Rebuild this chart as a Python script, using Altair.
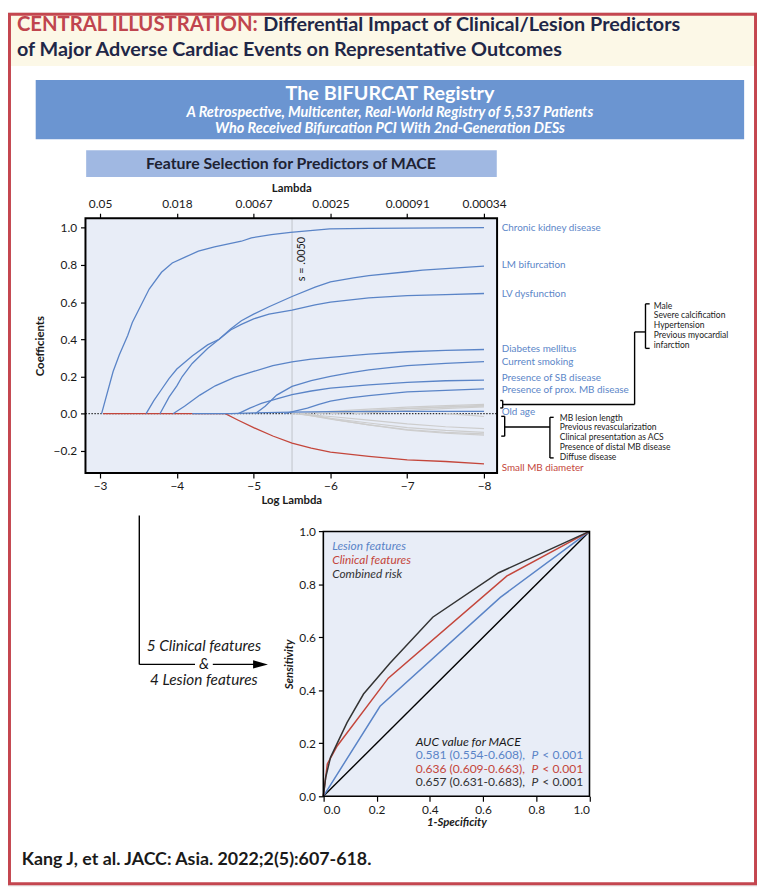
import altair as alt
import pandas as pd

W, H = 757, 882
OFF = 4


def px(v):
    return round(v - OFF, 1)


# ---------------- text content ----------------
title_red = "CENTRAL ILLUSTRATION:"
title_line1 = "Differential Impact of Clinical/Lesion Predictors"
title_line2 = "of Major Adverse Cardiac Events on Representative Outcomes"
banner_title = "The BIFURCAT Registry"
banner_sub = ["A Retrospective, Multicenter, Real-World Registry of 5,537 Patients",
              "Who Received Bifurcation PCI With 2nd-Generation DESs"]
panel_title = "Feature Selection for Predictors of MACE"
citation = "Kang J, et al. JACC: Asia. 2022;2(5):607-618."

# ---------------- lasso path data ----------------
loglam_ticks = [-3, -4, -5, -6, -7, -8]
lambda_tick_labels = ["0.05", "0.018", "0.0067", "0.0025", "0.00091", "0.00034"]
coef_ticks = [-0.2, 0.0, 0.2, 0.4, 0.6, 0.8, 1.0]
loglam_domain = [-8.17, -2.81]
coef_domain = [-0.319, 1.051]
s_loglam = -5.5
s_label = "s = .0050"

ckd_x = [-3.02, -3.17, -3.25, -3.36, -3.42, -3.64, -3.8, -3.94, -4.1, -4.28, -4.49, -4.84, -4.97, -5.23, -5.48, -5.99, -6.5, -7.0, -7.5, -8.0]
ckd_y = [0.0, 0.227, 0.315, 0.42, 0.49, 0.67, 0.76, 0.81, 0.84, 0.874, 0.897, 0.927, 0.945, 0.963, 0.975, 0.993, 0.996, 0.998, 0.999, 1.0]
lm_x = [-3.78, -3.9, -4.0, -4.07, -4.2, -4.4, -4.55, -4.7, -4.84, -5.0, -5.2, -5.5, -5.8, -6.0, -6.3, -6.5, -7.0, -7.2, -7.5, -8.0]
lm_y = [0.0, 0.09, 0.15, 0.2, 0.27, 0.35, 0.4, 0.455, 0.5, 0.535, 0.575, 0.63, 0.68, 0.708, 0.73, 0.742, 0.763, 0.772, 0.78, 0.793]
lv_x = [-3.6, -3.7, -3.8, -3.9, -4.0, -4.2, -4.4, -4.55, -4.7, -4.84, -5.0, -5.2, -5.5, -5.8, -6.0, -6.5, -7.0, -7.5, -8.0]
lv_y = [0.0, 0.07, 0.13, 0.19, 0.24, 0.31, 0.37, 0.4, 0.45, 0.48, 0.51, 0.535, 0.557, 0.585, 0.6, 0.622, 0.635, 0.64, 0.646]
dm_x = [-3.95, -4.1, -4.3, -4.5, -4.75, -5.0, -5.25, -5.5, -5.75, -6.0, -6.5, -7.0, -7.5, -8.0]
dm_y = [0.0, 0.04, 0.1, 0.15, 0.195, 0.227, 0.258, 0.278, 0.293, 0.303, 0.32, 0.333, 0.34, 0.345]
smk_x = [-5.02, -5.15, -5.3, -5.5, -5.75, -6.0, -6.25, -6.5, -7.0, -7.5, -8.0]
smk_y = [0.0, 0.04, 0.1, 0.147, 0.178, 0.2, 0.22, 0.235, 0.258, 0.27, 0.28]
sb_x = [-4.8, -4.95, -5.1, -5.3, -5.5, -5.75, -6.0, -6.5, -7.0, -7.5, -8.0]
sb_y = [0.0, 0.03, 0.055, 0.08, 0.103, 0.122, 0.138, 0.155, 0.168, 0.177, 0.18]
pmb_x = [-5.4, -5.55, -5.7, -5.85, -6.0, -6.25, -6.5, -7.0, -7.5, -8.0]
pmb_y = [0.0, 0.015, 0.03, 0.05, 0.067, 0.085, 0.097, 0.117, 0.125, 0.133]
age_x = [-4.2, -4.7, -5.0, -5.5, -6.0, -7.0, -8.0]
age_y = [0.0, 0.0, 0.004, 0.008, 0.011, 0.013, 0.013]
smb_x = [-3.04, -4.63, -4.8, -5.0, -5.25, -5.5, -5.75, -6.0, -6.5, -7.0, -7.5, -8.0]
smb_y = [0.0, 0.0, -0.035, -0.075, -0.12, -0.158, -0.185, -0.207, -0.229, -0.248, -0.257, -0.27]

male_x = [-5.6, -6.0, -6.5, -7.0, -7.5, -8.0]
male_y = [0.0, 0.012, 0.025, 0.035, 0.043, 0.05]
calc_x = [-5.8, -6.2, -6.6, -7.0, -7.5, -8.0]
calc_y = [0.0, 0.01, 0.02, 0.028, 0.037, 0.045]
htn_x = [-6.0, -6.5, -7.0, -7.5, -8.0]
htn_y = [0.0, 0.015, 0.027, 0.035, 0.04]
pmi_x = [-6.3, -6.8, -7.2, -7.6, -8.0]
pmi_y = [0.0, 0.012, 0.022, 0.03, 0.036]
len_x = [-5.5, -6.0, -6.5, -7.0, -7.5, -8.0]
len_y = [0.0, -0.015, -0.035, -0.055, -0.07, -0.08]
rev_x = [-5.55, -6.0, -6.5, -7.0, -7.5, -8.0]
rev_y = [0.0, -0.025, -0.05, -0.075, -0.09, -0.1]
acs_x = [-5.6, -6.0, -6.5, -7.0, -7.5, -8.0]
acs_y = [0.0, -0.03, -0.06, -0.085, -0.1, -0.108]
dmb_x = [-5.7, -6.1, -6.5, -7.0, -7.5, -8.0]
dmb_y = [0.0, -0.035, -0.06, -0.088, -0.105, -0.115]
dif_x = [-7.5, -7.8, -8.0]
dif_y = [0.0, -0.008, -0.015]

label_names = ["Chronic kidney disease", "LM bifurcation", "LV dysfunction", "Diabetes mellitus",
               "Current smoking", "Presence of SB disease", "Presence of prox. MB disease",
               "Old age", "Small MB diameter"]
label_y = [0.998, 0.798, 0.644, 0.347, 0.28, 0.191, 0.129, 0.011, -0.292]
upper_list = ["Male", "Severe calcification", "Hypertension", "Previous myocardial", "infarction"]
lower_list = ["MB lesion length", "Previous revascularization", "Clinical presentation as ACS",
              "Presence of distal MB disease", "Diffuse disease"]
arrow_text = ["5 Clinical features", "&", "4 Lesion features"]

# ---------------- ROC data ----------------
roc_ticks = [0.0, 0.2, 0.4, 0.6, 0.8, 1.0]
diag_fpr = [0.0, 1.0]
diag_tpr = [0.0, 1.0]
lesion_fpr = [0.0, 0.213, 0.665, 1.0]
lesion_tpr = [0.0, 0.34, 0.751, 1.0]
clinical_fpr = [0.0, 0.015, 0.052, 0.244, 0.69, 1.0]
clinical_tpr = [0.0, 0.122, 0.19, 0.446, 0.832, 1.0]
combined_fpr = [0.0, 0.009, 0.027, 0.089, 0.151, 0.25, 0.411, 0.659, 1.0]
combined_tpr = [0.0, 0.072, 0.147, 0.278, 0.386, 0.502, 0.676, 0.844, 1.0]
roc_names = ["Lesion features", "Clinical features", "Combined risk"]
auc_header = "AUC value for MACE"
auc_ci = ["0.581 (0.554-0.608),", "0.636 (0.609-0.663),", "0.657 (0.631-0.683),"]
auc_p = ["P", "P", "P"]
auc_pval = ["< 0.001", "< 0.001", "< 0.001"]

# ---------------- styles ----------------
BLUE = "#5a84c7"
BLUE_T = "#5b86c8"
RED = "#c4463b"
GRAY = "#cdcdcd"
PLOT_BG = "#e8edf7"
BANNER = "#6b95d1"
SUBBANNER = "#a0b8e2"
CREAM = "#fcf8e7"
TITLE_RED = "#c0454e"
NAVY = "#1f2747"
FRAME_RED = "#c4464f"
DARK = "#333333"
FONT = "Lato, 'Open Sans', sans-serif"
HFONT = "Lato, Roboto, sans-serif"


def text_chart(texts, xs, ys, **mark):
    df = pd.DataFrame({"t": texts, "x": [px(v) for v in xs], "y": [px(v) for v in ys]})
    return alt.Chart(df).mark_text(**mark).encode(
        x=alt.X("x:Q", scale=None, axis=None),
        y=alt.Y("y:Q", scale=None, axis=None),
        text="t:N")


def rules_chart(segs, color="black", width=1.3):
    df = pd.DataFrame(segs, columns=["x", "x2", "y", "y2"]).map(px)
    return alt.Chart(df).mark_rule(color=color, strokeWidth=width).encode(
        x=alt.X("x:Q", scale=None, axis=None), x2="x2:Q",
        y=alt.Y("y:Q", scale=None, axis=None), y2="y2:Q")


# ---------------- header ----------------
rect_df = pd.DataFrame({
    "x": [px(0), px(32), px(83)], "x2": [px(765), px(748), px(498)],
    "y": [px(0), px(72), px(143)], "y2": [px(58), px(132), px(170)],
    "fill": [CREAM, BANNER, SUBBANNER]})
rect_df["x"] = rect_df["x"].clip(lower=0)
rect_df["y"] = rect_df["y"].clip(lower=0)
header_rects = alt.Chart(rect_df).mark_rect().encode(
    x=alt.X("x:Q", scale=None, axis=None), x2="x2:Q",
    y=alt.Y("y:Q", scale=None, axis=None), y2="y2:Q",
    color=alt.Color("fill:N", scale=None))

t_red = text_chart([title_red], [13], [17], align="left", baseline="middle", font=HFONT,
                   fontSize=20.5, fontWeight="bold", color=TITLE_RED)
t_l1 = text_chart([title_line1], [262], [17], align="left", baseline="middle", font=HFONT,
                  fontSize=20, fontWeight="bold", color=NAVY)
t_l2 = text_chart([title_line2], [13], [42], align="left", baseline="middle", font=HFONT,
                  fontSize=20, fontWeight="bold", color=NAVY)
t_b1 = text_chart([banner_title], [390], [86.5], align="center", baseline="middle", font=HFONT,
                  fontSize=20, fontWeight="bold", color="white")
t_b2 = text_chart(banner_sub, [390, 390], [105.5, 122], align="center", baseline="middle", font=HFONT,
                  fontSize=14.6, fontWeight="bold", fontStyle="italic", color="white")
t_sb = text_chart([panel_title], [290], [157], align="center", baseline="middle", font=HFONT,
                  fontSize=16, fontWeight="bold", color="#1e2233")
t_cit = text_chart([citation], [18], [860], align="left", baseline="middle", font=HFONT,
                   fontSize=18, fontWeight="bold", color="#1a1a1a")

# ---------------- lasso panel ----------------
xs = alt.Scale(domain=loglam_domain, range=[px(498.3), px(82.3)], nice=False, zero=False)
ys = alt.Scale(domain=coef_domain, range=[px(469.3), px(211.7)], nice=False, zero=False)

lam_expr = "''"
for v, lab in reversed(list(zip(loglam_ticks, lambda_tick_labels))):
    lam_expr = f"datum.value == {v} ? '{lab}' : {lam_expr}"

axis_common = dict(grid=False, domain=False, tickColor="black", tickWidth=1.2, tickSize=5, zindex=2,
                   labelFont=FONT, labelFontSize=12, labelColor="#1a1a1a",
                   titleFont=FONT, titleFontSize=11.5, titleFontWeight="bold", titleColor="#1a1a1a")
ax_bottom = alt.Axis(orient="bottom", offset=px(469.3) - H, values=loglam_ticks, format="d",
                     title="Log Lambda", labelPadding=3, titlePadding=3, **axis_common)
ax_top = alt.Axis(orient="top", offset=-px(211.7), values=loglam_ticks, labelExpr=lam_expr,
                  title="Lambda", labelPadding=3, titlePadding=4, **axis_common)
ax_left = alt.Axis(orient="left", offset=-px(82.3), values=coef_ticks, format=".1f",
                   title="Coefficients", labelPadding=4, titlePadding=8, **axis_common)

bounds_df = pd.DataFrame({"x": [loglam_domain[1]], "x2": [loglam_domain[0]],
                          "y": [coef_domain[0]], "y2": [coef_domain[1]]})
lasso_bg = alt.Chart(bounds_df).mark_rect(fill=PLOT_BG).encode(
    x=alt.X("x:Q", scale=xs, axis=ax_bottom), x2="x2:Q",
    y=alt.Y("y:Q", scale=ys, axis=ax_left), y2="y2:Q")
lasso_frame = alt.Chart(bounds_df).mark_rect(fillOpacity=0, stroke="black", strokeWidth=2).encode(
    x=alt.X("x:Q", scale=xs, axis=ax_top), x2="x2:Q",
    y=alt.Y("y:Q", scale=ys, axis=None), y2="y2:Q")

zero_line = alt.Chart(pd.DataFrame({"y": [0.0]})).mark_rule(
    color="black", strokeWidth=1, strokeDash=[1.5, 1.5]).encode(
    y=alt.Y("y:Q", scale=ys, axis=None),
    x=alt.value(px(82.3)), x2=alt.value(px(498.3)))
s_rule = alt.Chart(pd.DataFrame({"x": [s_loglam]})).mark_rule(color="#c9cdd4", strokeWidth=1.3).encode(
    x=alt.X("x:Q", scale=xs, axis=None), y=alt.value(px(212.5)), y2=alt.value(px(468.5)))
s_text = alt.Chart(pd.DataFrame({"x": [s_loglam], "t": [s_label]})).mark_text(
    angle=270, align="center", baseline="middle", dy=10, font=FONT, fontSize=11, color="#1a1a1a").encode(
    x=alt.X("x:Q", scale=xs, axis=None), y=alt.value(px(253)), text="t:N")


def series_df(names, xs_list, ys_list):
    rows = []
    for n, xv, yv in zip(names, xs_list, ys_list):
        for a, b in zip(xv, yv):
            rows.append({"name": n, "x": a, "y": b})
    return pd.DataFrame(rows)


gray_df = series_df(upper_list[:3] + ["Previous myocardial infarction"] + lower_list,
                    [male_x, calc_x, htn_x, pmi_x, len_x, rev_x, acs_x, dmb_x, dif_x],
                    [male_y, calc_y, htn_y, pmi_y, len_y, rev_y, acs_y, dmb_y, dif_y])
blue_df = series_df(label_names[:8],
                    [ckd_x, lm_x, lv_x, dm_x, smk_x, sb_x, pmb_x, age_x],
                    [ckd_y, lm_y, lv_y, dm_y, smk_y, sb_y, pmb_y, age_y])
red_df = series_df([label_names[8]], [smb_x], [smb_y])


def path_layer(df, color, width):
    return alt.Chart(df).mark_line(color=color, strokeWidth=width).encode(
        x=alt.X("x:Q", scale=xs, axis=None), y=alt.Y("y:Q", scale=ys, axis=None), detail="name:N")


lab_df = pd.DataFrame({"t": label_names, "y": label_y,
                       "c": [BLUE_T] * 8 + [RED]})
lasso_labels = alt.Chart(lab_df).mark_text(align="left", baseline="middle", font=FONT, fontSize=10).encode(
    y=alt.Y("y:Q", scale=ys, axis=None), x=alt.value(px(503)), text="t:N",
    color=alt.Color("c:N", scale=None))

lasso = alt.layer(
    lasso_bg, zero_line, s_rule,
    path_layer(gray_df, GRAY, 1.2), path_layer(red_df, RED, 1.3), path_layer(blue_df, BLUE, 1.3),
    s_text, lasso_labels, lasso_frame
).resolve_axis(x="independent", y="independent")

# brackets
bracket_segs = [
    (504, 504, 396, 403.5), (501.5, 504, 396, 396), (501.5, 504, 403.5, 403.5), (504, 637.3, 400, 400),
    (637.3, 637.3, 326.7, 400), (637.3, 648.3, 326.7, 326.7),
    (648.3, 648.3, 298.3, 343.3), (648.3, 652.5, 298.3, 298.3), (648.3, 652.5, 343.3, 343.3),
    (506, 506, 412, 432), (502.5, 506, 412, 412), (502.5, 506, 432, 432), (506, 551.7, 422.7, 422.7),
    (551.7, 551.7, 413, 454), (551.7, 555.5, 413, 413), (551.7, 555.5, 454, 454),
    (136.7, 136.7, 512.3, 662.7), (136.7, 193, 662.7, 662.7), (211, 253, 662.7, 662.7),
]
brackets = rules_chart(bracket_segs, width=1.4)
upper_txt = text_chart(upper_list, [656.7] * 5, [300 + 10.1 * i for i in range(5)], align="left",
                       baseline="middle", font=FONT, fontSize=8.6, color="#1a1a1a")
lower_txt = text_chart(lower_list, [561.7] * 5, [413.5 + 9.8 * i for i in range(5)], align="left",
                       baseline="middle", font=FONT, fontSize=8.6, color="#1a1a1a")
arrow_head = alt.Chart(pd.DataFrame({"a": [0]})).mark_point(
    shape="M-1,-0.55L1,0L-1,0.55Z", filled=True, size=225, color="black", opacity=1).encode(
    x=alt.value(px(259.2)), y=alt.value(px(662.7)))
arrow_txt = text_chart(arrow_text, [202, 202, 202], [644, 662, 679], align="center", baseline="middle",
                       font=FONT, fontSize=15.5, fontStyle="italic", color="#1a1a1a")

# ---------------- ROC panel ----------------
rx = alt.Scale(domain=[0, 1], range=[px(322.7), px(591.7)], nice=False, zero=False)
ry = alt.Scale(domain=[0, 1], range=[px(796), px(528.3)], nice=False, zero=False)
roc_axis = dict(grid=False, domain=False, tickColor="black", tickWidth=1.2, tickSize=5, zindex=2,
                labelFont=FONT, labelFontSize=12, labelColor="#1a1a1a", values=roc_ticks, format=".1f",
                titleFont=FONT, titleFontSize=11.5, titleFontWeight="bold", titleFontStyle="italic",
                titleColor="#1a1a1a")
rax_x = alt.Axis(orient="bottom", offset=px(796) - H, title="1-Specificity", labelPadding=3, titlePadding=2,
                 **roc_axis)
rax_y = alt.Axis(orient="left", offset=-px(322.7), title="Sensitivity", labelPadding=3, titlePadding=4,
                 **roc_axis)
rb_df = pd.DataFrame({"x": [0.0], "x2": [1.0], "y": [0.0], "y2": [1.0]})
roc_bg = alt.Chart(rb_df).mark_rect(fill=PLOT_BG).encode(
    x=alt.X("x:Q", scale=rx, axis=rax_x), x2="x2:Q",
    y=alt.Y("y:Q", scale=ry, axis=rax_y), y2="y2:Q")
roc_frame = alt.Chart(rb_df).mark_rect(fillOpacity=0, stroke="black", strokeWidth=1.6).encode(
    x=alt.X("x:Q", scale=rx, axis=None), x2="x2:Q",
    y=alt.Y("y:Q", scale=ry, axis=None), y2="y2:Q")


def roc_line(fpr, tpr, color, width):
    return alt.Chart(pd.DataFrame({"x": fpr, "y": tpr})).mark_line(color=color, strokeWidth=width).encode(
        x=alt.X("x:Q", scale=rx, axis=None), y=alt.Y("y:Q", scale=ry, axis=None))


roc_colors = [BLUE, RED, DARK]
roc_leg = alt.layer(*[
    text_chart([n], [331.7], [543.3 + 14 * i], align="left", baseline="middle", font=FONT,
               fontSize=12, fontStyle="italic", color=c)
    for i, (n, c) in enumerate(zip(roc_names, roc_colors))])
auc_hdr = text_chart([auc_header], [416], [740.7], align="left", baseline="middle", font=FONT,
                     fontSize=12.4, fontStyle="italic", color="#1a1a1a")
auc_parts = []
for i, c in enumerate(roc_colors):
    yy = 754.3 + 13.7 * i
    auc_parts.append(text_chart([auc_ci[i]], [416], [yy], align="left", baseline="middle", font=FONT,
                                fontSize=12.2, color=c))
    auc_parts.append(text_chart([auc_p[i]], [533], [yy], align="left", baseline="middle", font=FONT,
                                fontSize=12.2, fontStyle="italic", color=c))
    auc_parts.append(text_chart([auc_pval[i]], [544], [yy], align="left", baseline="middle", font=FONT,
                                fontSize=12.2, color=c))

roc = alt.layer(
    roc_bg,
    roc_line(diag_fpr, diag_tpr, "black", 1.4),
    roc_line(lesion_fpr, lesion_tpr, BLUE, 1.5),
    roc_line(clinical_fpr, clinical_tpr, RED, 1.5),
    roc_line(combined_fpr, combined_tpr, DARK, 1.5),
    roc_frame,
).resolve_axis(x="independent", y="independent")

frame = alt.Chart(pd.DataFrame({"a": [0]})).mark_rect(fillOpacity=0, stroke=FRAME_RED, strokeWidth=3).encode(
    x=alt.value(1.5), x2=alt.value(W - 1.5), y=alt.value(1.5), y2=alt.value(H - 1.5))

chart = alt.layer(
    header_rects, t_red, t_l1, t_l2, t_b1, t_b2, t_sb,
    lasso, brackets, upper_txt, lower_txt, arrow_head, arrow_txt,
    roc, roc_leg, auc_hdr, *auc_parts,
    t_cit, frame
).resolve_scale(x="independent", y="independent").properties(
    width=W, height=H, autosize=alt.AutoSizeParams(type="none"), padding=0
).configure_view(strokeWidth=0).configure(background="white")

chart.save("out.html", embed_options={"renderer": "svg", "actions": False})
